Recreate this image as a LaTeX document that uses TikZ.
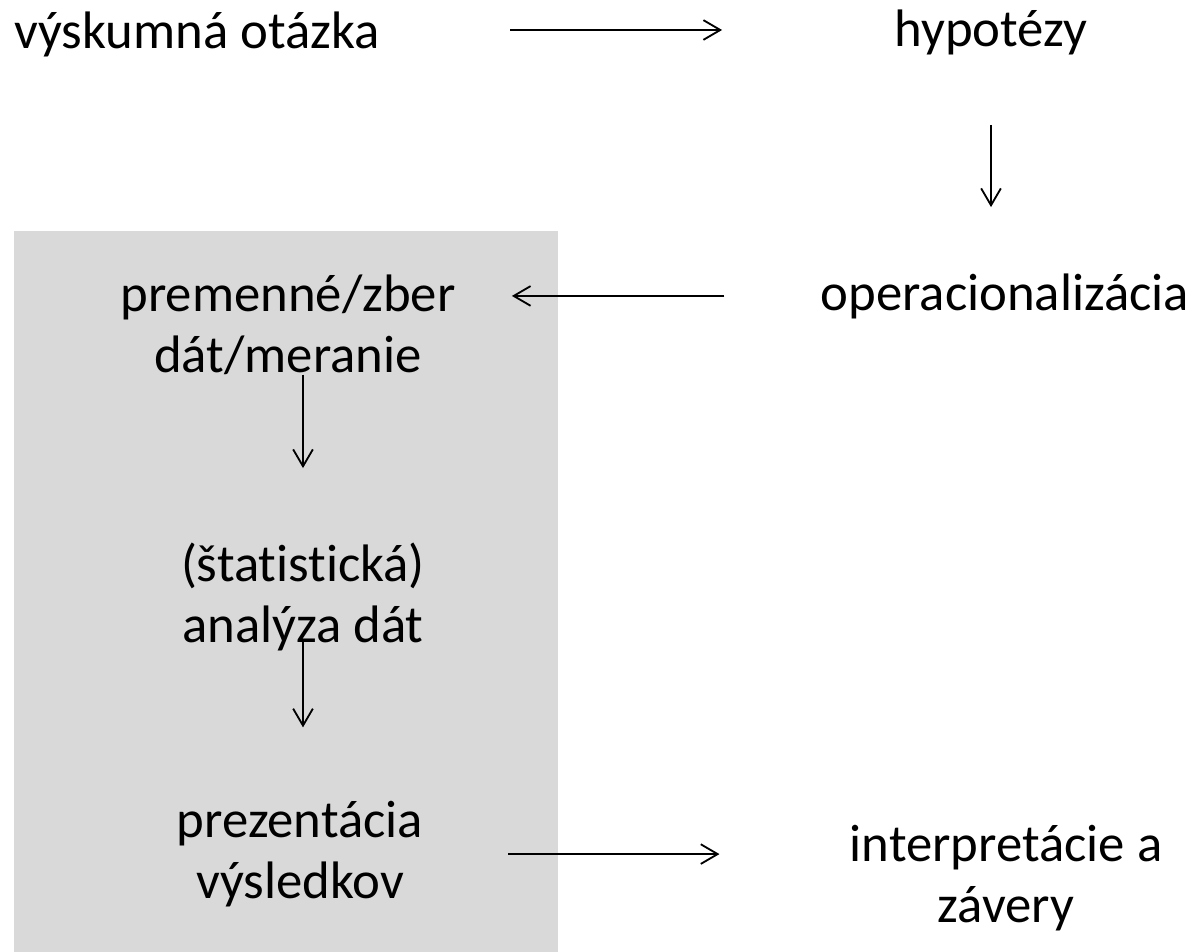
\documentclass[tikz,border=0pt]{standalone}
\usepackage{fontspec}
\setmainfont{Carlito}[Ligatures=NoCommon]
\usetikzlibrary{arrows.meta}
\definecolor{boxgray}{HTML}{D9D9D9}
\tikzset{arr/.style={-{Straight Barb[length=12pt,width=14pt]}, line width=1.3pt}}

\begin{document}
\begin{tikzpicture}[x=0.025cm, y=-0.025cm,
    every node/.style={inner sep=0pt, align=center, anchor=base,
        font=\fontsize{37.5}{42.7}\selectfont}]
    \useasboundingbox (0,0) rectangle (1196,952);
    \fill[boxgray] (14,231) rectangle (558,952);

    % Nodes
    \node (Q) at (197,49) {výskumná otázka};
    \node (H) at (991,47) {hypotézy};
    \node (OP) at (1005,310) {operacionalizácia};
    \node (VAR) at (288,372) {premenné/zber\\dát/meranie};
    \node (AN) at (303,642) {(štatistická)\\analýza dát};
    \node (PRES) at (300,898) {prezentácia\\výsledkov};
    \node (INT) at (1006,922) {interpretácie a\\závery};

    % Arrows
    \draw[arr, shorten <=3.25cm, shorten >=4.3cm] ([yshift=0.475cm]Q.base east) -- ([yshift=0.475cm]Q.base east -| H.west);
    \draw[arr, shorten <=1.725cm, shorten >=1.65cm] (H.south) -- (H.south |- OP.north);
    \draw[arr, shorten <=2.4cm, shorten >=1.4cm] (OP.west) -- (OP.west -| VAR.east);
    \draw[arr, shorten >=1.875cm] ([xshift=0.375cm]VAR.south) -- ([xshift=0.375cm]VAR.south |- AN.north);
    \draw[arr, shorten <=-0.25cm, shorten >=1.85cm] (AN.south) -- (AN.south |- PRES.north);
    \draw[arr, shorten <=2.125cm, shorten >=3.25cm] (PRES.east) -- (PRES.east -| INT.west);
\end{tikzpicture}
\end{document}
